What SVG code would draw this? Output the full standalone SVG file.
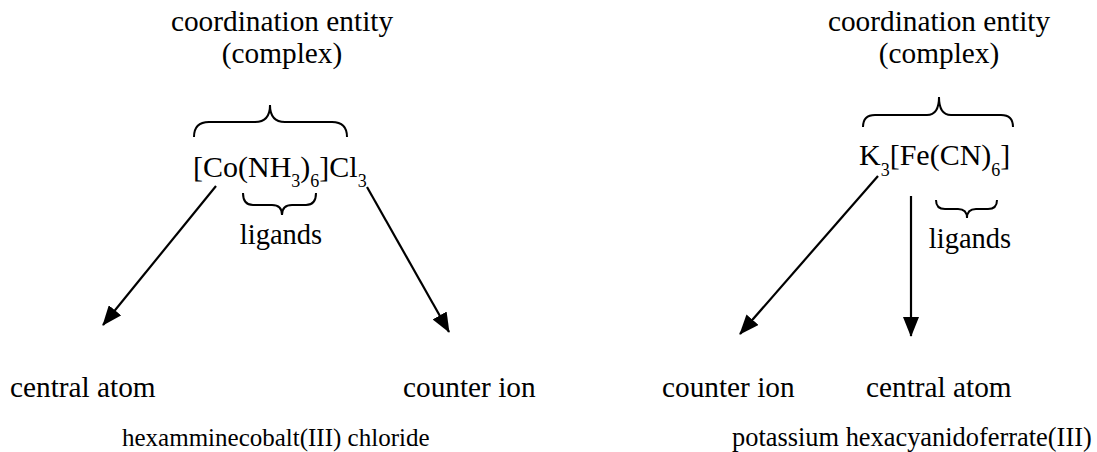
<svg xmlns="http://www.w3.org/2000/svg" width="1097" height="452" viewBox="0 0 1097 452">
<style>
text{font-family:"Liberation Serif","Times New Roman",serif;fill:#000}
.lb{font-size:29.3px}
.lg{font-size:28.5px}
.f{font-size:30px}
.s{font-size:18px}
.br{fill:none;stroke:#000;stroke-width:2}
.ar{fill:none;stroke:#000;stroke-width:2.2}
</style>
<defs>
<marker id="ah2" viewBox="0 0 20 16" refX="19" refY="8" markerWidth="20" markerHeight="16" markerUnits="userSpaceOnUse" orient="auto">
<path d="M0,0 L20,8 L0,16 z" fill="#000"/>
</marker>
</defs>
<g id="left-complex">
<text class="lb" x="282" y="31" text-anchor="middle">coordination entity</text>
<text class="lb" x="282" y="63" text-anchor="middle">(complex)</text>
<path class="br" d="M194,137 Q194,122 209,122 L255,122 Q270,122 270,105 Q270,122 285,122 L332,122 Q347,122 347,137"/>
</g>
<g id="left-formula">
<text class="f" x="193" y="177">[Co(NH<tspan class="s" dy="10">3</tspan><tspan dy="-10">)</tspan><tspan class="s" dy="10">6</tspan><tspan dy="-10">]Cl</tspan><tspan class="s" dy="10">3</tspan></text>
</g>
<g id="left-ligands">
<path class="br" d="M243,193 Q243,205 253,205 L272,205 Q282,205 282,215 Q282,205 292,205 L306,205 Q316,205 316,193"/>
<text class="lg" x="281" y="244" text-anchor="middle">ligands</text>
</g>
<g id="left-central">
<text class="lb" x="10" y="397">central atom</text>
</g>
<g id="left-counter">
<text class="lb" x="403" y="397">counter ion</text>
</g>
<g id="left-name">
<text x="122" y="446" style="font-size:25px">hexamminecobalt(III) chloride</text>
</g>
<g id="right-complex">
<text class="lb" x="939" y="31" text-anchor="middle">coordination entity</text>
<text class="lb" x="939" y="63" text-anchor="middle">(complex)</text>
<path class="br" d="M863,127 Q863,115 875,115 L927,115 Q939,115 939,97 Q939,115 951,115 L1001,115 Q1013,115 1013,127"/>
</g>
<g id="right-formula">
<text class="f" x="859" y="165">K<tspan class="s" dy="11">3</tspan><tspan dy="-11">[Fe(CN)</tspan><tspan class="s" dy="11">6</tspan><tspan dy="-11">]</tspan></text>
</g>
<g id="right-ligands">
<path class="br" d="M936,200 Q936,209 945,209 L958,209 Q967,209 967,218 Q967,209 976,209 L988,209 Q997,209 997,200"/>
<text class="lg" x="970" y="248" text-anchor="middle">ligands</text>
</g>
<g id="right-counter">
<text class="lb" x="662" y="397">counter ion</text>
</g>
<g id="right-central">
<text class="lb" x="866" y="397">central atom</text>
</g>
<g id="right-name">
<text x="732" y="446" style="font-size:26.4px">potassium hexacyanidoferrate(III)</text>
</g>
<g id="connectors">
<line class="ar" x1="216" y1="186" x2="103" y2="325" marker-end="url(#ah2)"/>
<line class="ar" x1="367" y1="187" x2="449" y2="332" marker-end="url(#ah2)"/>
<line class="ar" x1="878" y1="176" x2="740" y2="334" marker-end="url(#ah2)"/>
<line class="ar" x1="911" y1="196" x2="911" y2="336" marker-end="url(#ah2)"/>
</g>
</svg>
